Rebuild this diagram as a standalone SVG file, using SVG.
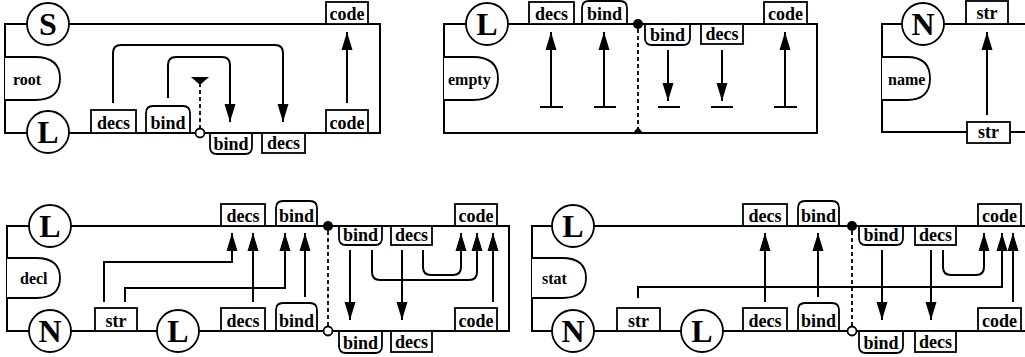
<svg xmlns="http://www.w3.org/2000/svg" width="1025" height="357" viewBox="0 0 1025 357">
<style>
.fr{fill:none;stroke:#000;stroke-width:2}
.bx{fill:#fff;stroke:#000;stroke-width:1.8}
.ci{fill:#fff;stroke:#000;stroke-width:1.8}
.t{font-family:"Liberation Serif",serif;font-weight:bold;font-size:18px;text-anchor:middle;fill:#000}
.big{font-size:32px}
.pl{font-size:16px;text-anchor:start}
.ar{fill:none;stroke:#000;stroke-width:2;marker-end:url(#ah)}
.ln{fill:none;stroke:#000;stroke-width:2}
.da{fill:none;stroke:#000;stroke-width:1.8;stroke-dasharray:4 3}
</style>
<defs>
<marker id="ah" markerWidth="19" markerHeight="12" refX="18" refY="6" orient="auto" markerUnits="userSpaceOnUse">
<path d="M0,0.5 L18,6 L0,11.5 Z" fill="#000"/>
</marker>
</defs>
<rect width="1025" height="357" fill="#fff"/>
<g id="frames">
<path class="fr" d="M5,24 H380 V133 H5 Z"/>
<path class="fr" d="M444,24 H817 V133 H444 Z"/>
<path class="fr" d="M1025,24 H882 V132 H1025"/>
<path class="fr" d="M7,226 H509 V331 H7 Z"/>
<path class="fr" d="M1025,226 H532 V331 H1025"/>
</g>
<g id="connectors">
<path class="ar" d="M113,103 V53 Q113,45 121,45 H275 Q283,45 283,53 V122"/>
<path class="ar" d="M168,98 V65 Q168,57 176,57 H222 Q230,57 230,65 V122"/>
<path class="da" d="M200,129 V82"/>
<polygon points="191,77 209,77 201,84 199,84" fill="#000"/>
<path class="ar" d="M347,103 V32"/>
<path class="ar" d="M551,107 V32"/><path class="ln" d="M540,107 H563"/>
<path class="ar" d="M604,107 V32"/><path class="ln" d="M594,107 H616"/>
<path class="ar" d="M668,50 V101"/><path class="ln" d="M658,107 H680"/>
<path class="ar" d="M722,50 V101"/><path class="ln" d="M711,107 H733"/>
<path class="ar" d="M785,107 V32"/><path class="ln" d="M774,107 H797"/>
<path class="da" d="M638,29 V128"/>
<polygon points="633,133 643,133 638,127" fill="#000"/>
<path class="ar" d="M987,115 V32"/>
<path class="ar" d="M104,302 V262 H232 V233"/>
<path class="ar" d="M125,302 V288 H285 V233"/>
<path class="ar" d="M253,302 V233"/>
<path class="ar" d="M305,297 V233"/>
<path class="da" d="M328,231 V327"/>
<path class="ar" d="M350,250 V320"/>
<path class="ar" d="M402,250 V320"/>
<path class="ar" d="M372,250 V272 Q372,280 380,280 H469 Q477,280 477,272 V233"/>
<path class="ar" d="M423,250 V267 Q423,275 431,275 H453 Q461,275 461,267 V233"/>
<path class="ar" d="M493,302 V233"/>
<path class="ar" d="M638,298 V287 H1002 V233"/>
<path class="ar" d="M765,302 V233"/>
<path class="ar" d="M818,297 V233"/>
<path class="da" d="M852,231 V327"/>
<path class="ar" d="M882,250 V320"/>
<path class="ar" d="M931,250 V320"/>
<path class="ar" d="M943,250 V267 Q943,275 951,275 H976 Q984,275 984,267 V233"/>
<path class="ar" d="M1013,302 V233"/>
</g>
<g id="p1-S"><circle class="ci" cx="48" cy="24" r="21"/><text class="t big" x="48" y="35">S</text></g>
<g id="p1-L"><circle class="ci" cx="48" cy="132" r="21"/><text class="t big" x="48" y="143">L</text></g>
<g id="p1-root"><path class="bx" d="M5,57 H35 Q60,57 60,78.5 Q60,100 35,100 H5"/><text class="t pl" x="13" y="85">root</text></g>
<g id="p1-decs"><rect class="bx" x="91" y="110" width="45" height="23"/><text class="t" x="113.5" y="129">decs</text></g>
<g id="p1-bind"><path class="bx" d="M146,133 V113 Q146,106 153,106 H183 Q190,106 190,113 V133 Z"/><text class="t" x="168" y="129">bind</text></g>
<g id="p1-dot"><circle cx="200" cy="133" r="4.5" fill="#fff" stroke="#000" stroke-width="1.8"/></g>
<g id="p1-bind2"><path class="bx" d="M210,133 V147 Q210,154 217,154 H245 Q252,154 252,147 V133 Z"/><text class="t" x="231" y="150">bind</text></g>
<g id="p1-decs2"><rect class="bx" x="262" y="133" width="43" height="20"/><text class="t" x="283.5" y="149">decs</text></g>
<g id="p1-code-top"><rect class="bx" x="326" y="2" width="42" height="22"/><text class="t" x="347" y="20">code</text></g>
<g id="p1-code-bot"><rect class="bx" x="326" y="110" width="42" height="23"/><text class="t" x="347" y="129">code</text></g>
<g id="p2-L"><circle class="ci" cx="487" cy="24" r="21"/><text class="t big" x="487" y="35">L</text></g>
<g id="p2-empty"><path class="bx" d="M444,57 H473 Q498,57 498,78.5 Q498,100 473,100 H444"/><text class="t pl" x="448" y="85">empty</text></g>
<g id="p2-decs"><rect class="bx" x="529" y="2" width="45" height="22"/><text class="t" x="551.5" y="20">decs</text></g>
<g id="p2-bind"><path class="bx" d="M582,24 V8 Q582,1 589,1 H620 Q627,1 627,8 V24 Z"/><text class="t" x="604.5" y="20">bind</text></g>
<g id="p2-dot"><circle cx="638" cy="24" r="5" fill="#000"/></g>
<g id="p2-bind2"><path class="bx" d="M645,24 V38 Q645,45 652,45 H683 Q690,45 690,38 V24 Z"/><text class="t" x="667.5" y="41">bind</text></g>
<g id="p2-decs2"><rect class="bx" x="701" y="24" width="42" height="20"/><text class="t" x="722" y="40">decs</text></g>
<g id="p2-code"><rect class="bx" x="764" y="2" width="43" height="22"/><text class="t" x="785.5" y="20">code</text></g>
<g id="p3-N"><circle class="ci" cx="923" cy="24" r="21"/><text class="t big" x="923" y="35">N</text></g>
<g id="p3-name"><path class="bx" d="M882,57 H907 Q930,57 930,78.5 Q930,100 907,100 H882"/><text class="t pl" x="888" y="85">name</text></g>
<g id="p3-str-top"><rect class="bx" x="966" y="1" width="42" height="23"/><text class="t" x="987" y="19">str</text></g>
<g id="p3-str-bot"><rect class="bx" x="967" y="122" width="43" height="21"/><text class="t" x="988.5" y="138">str</text></g>
<g id="p4-L"><circle class="ci" cx="50" cy="226" r="21"/><text class="t big" x="50" y="237">L</text></g>
<g id="p4-decl"><path class="bx" d="M7,258 H36 Q60,258 60,278 Q60,298 36,298 H7"/><text class="t pl" x="20" y="284">decl</text></g>
<g id="p4-N"><circle class="ci" cx="50" cy="331" r="21"/><text class="t big" x="50" y="342">N</text></g>
<g id="p4-str"><rect class="bx" x="95" y="308" width="42" height="23"/><text class="t" x="116" y="327">str</text></g>
<g id="p4-L2"><circle class="ci" cx="178" cy="331" r="21"/><text class="t big" x="178" y="342">L</text></g>
<g id="p4-decs-top"><rect class="bx" x="221" y="204" width="44" height="22"/><text class="t" x="243" y="222">decs</text></g>
<g id="p4-bind-top"><path class="bx" d="M276,226 V208 Q276,201 283,201 H310 Q317,201 317,208 V226 Z"/><text class="t" x="296.5" y="222">bind</text></g>
<g id="p4-decs-bot"><rect class="bx" x="221" y="308" width="44" height="23"/><text class="t" x="243" y="327">decs</text></g>
<g id="p4-bind-bot"><path class="bx" d="M276,331 V310 Q276,303 283,303 H310 Q317,303 317,310 V331 Z"/><text class="t" x="296.5" y="327">bind</text></g>
<g id="p4-dot1"><circle cx="328" cy="226" r="5" fill="#000"/></g>
<g id="p4-dot2"><circle cx="328" cy="331" r="4.5" fill="#fff" stroke="#000" stroke-width="1.8"/></g>
<g id="p4-bind3"><path class="bx" d="M339,226 V238 Q339,245 346,245 H375 Q382,245 382,238 V226 Z"/><text class="t" x="360.5" y="241">bind</text></g>
<g id="p4-decs3"><rect class="bx" x="391" y="226" width="41" height="19"/><text class="t" x="411.5" y="241">decs</text></g>
<g id="p4-code-top"><rect class="bx" x="455" y="204" width="42" height="22"/><text class="t" x="476" y="222">code</text></g>
<g id="p4-code-bot"><rect class="bx" x="455" y="308" width="42" height="23"/><text class="t" x="476" y="327">code</text></g>
<g id="p4-bind4"><path class="bx" d="M339,331 V346 Q339,353 346,353 H375 Q382,353 382,346 V331 Z"/><text class="t" x="360.5" y="349">bind</text></g>
<g id="p4-decs4"><rect class="bx" x="391" y="331" width="41" height="21"/><text class="t" x="411.5" y="348">decs</text></g>
<g id="p5-L"><circle class="ci" cx="573" cy="226" r="21"/><text class="t big" x="573" y="237">L</text></g>
<g id="p5-stat"><path class="bx" d="M532,258 H562 Q586,258 586,278 Q586,298 562,298 H532"/><text class="t pl" x="542" y="284">stat</text></g>
<g id="p5-N"><circle class="ci" cx="573" cy="331" r="21"/><text class="t big" x="573" y="342">N</text></g>
<g id="p5-str"><rect class="bx" x="617" y="308" width="43" height="23"/><text class="t" x="638.5" y="327">str</text></g>
<g id="p5-L2"><circle class="ci" cx="702" cy="331" r="21"/><text class="t big" x="702" y="342">L</text></g>
<g id="p5-decs-top"><rect class="bx" x="743" y="204" width="44" height="22"/><text class="t" x="765" y="222">decs</text></g>
<g id="p5-bind-top"><path class="bx" d="M798,226 V208 Q798,201 805,201 H832 Q839,201 839,208 V226 Z"/><text class="t" x="818.5" y="222">bind</text></g>
<g id="p5-decs-bot"><rect class="bx" x="743" y="308" width="44" height="23"/><text class="t" x="765" y="327">decs</text></g>
<g id="p5-bind-bot"><path class="bx" d="M798,331 V310 Q798,303 805,303 H832 Q839,303 839,310 V331 Z"/><text class="t" x="818.5" y="327">bind</text></g>
<g id="p5-dot1"><circle cx="852" cy="226" r="5" fill="#000"/></g>
<g id="p5-dot2"><circle cx="852" cy="331" r="4.5" fill="#fff" stroke="#000" stroke-width="1.8"/></g>
<g id="p5-bind3"><path class="bx" d="M859,226 V238 Q859,245 866,245 H896 Q903,245 903,238 V226 Z"/><text class="t" x="881" y="241">bind</text></g>
<g id="p5-decs3"><rect class="bx" x="915" y="226" width="41" height="19"/><text class="t" x="935.5" y="241">decs</text></g>
<g id="p5-code-top"><rect class="bx" x="978" y="204" width="43" height="22"/><text class="t" x="999.5" y="222">code</text></g>
<g id="p5-code-bot"><rect class="bx" x="978" y="308" width="43" height="23"/><text class="t" x="999.5" y="327">code</text></g>
<g id="p5-bind4"><path class="bx" d="M859,331 V346 Q859,353 866,353 H896 Q903,353 903,346 V331 Z"/><text class="t" x="881" y="349">bind</text></g>
<g id="p5-decs4"><rect class="bx" x="915" y="331" width="41" height="21"/><text class="t" x="935.5" y="348">decs</text></g>
</svg>
